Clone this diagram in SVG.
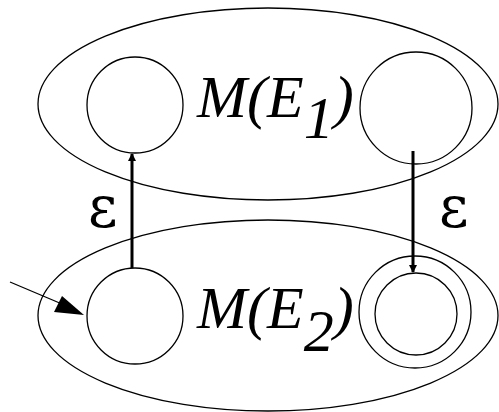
<svg xmlns="http://www.w3.org/2000/svg" width="499" height="412" viewBox="0 0 499 412">
<style>
.sh{fill:none;stroke:#000;stroke-width:1.3}
.ed{fill:none;stroke:#000;stroke-width:3}
.lb{font-family:"Liberation Serif","Times New Roman",serif;font-style:italic;font-size:60px;fill:#000}
.ep{font-family:"DejaVu Serif","Liberation Serif",serif;font-size:57px;fill:#000}
</style>
<defs>
<marker id="ah" markerWidth="8" markerHeight="8" refX="7" refY="4" orient="auto" markerUnits="userSpaceOnUse">
<path d="M0,0 L8,4 L0,8 Z" fill="#000"/>
</marker>
</defs>
<rect width="499" height="412" fill="#fff"/>
<g id="M_E1">
<ellipse class="sh" cx="268" cy="104" rx="230" ry="96"/>
<text class="lb" x="197" y="117">M(E<tspan dy="21">1</tspan><tspan dy="-21">)</tspan></text>
</g>
<g id="M_E2">
<ellipse class="sh" cx="268" cy="315.5" rx="230" ry="95.5"/>
<text class="lb" x="197" y="328">M(E<tspan dy="23">2</tspan><tspan dy="-23">)</tspan></text>
</g>
<g id="s1"><circle class="sh" cx="135" cy="105" r="48"/></g>
<g id="s2"><circle class="sh" cx="416" cy="108" r="56"/></g>
<g id="s3"><circle class="sh" cx="135" cy="316" r="48"/></g>
<g id="s4"><circle class="sh" cx="415" cy="312" r="56"/><circle class="sh" cx="416" cy="314" r="41"/></g>
<g id="connectors">
<line class="ed" x1="132" y1="268" x2="132" y2="154" marker-end="url(#ah)"/>
<line class="ed" x1="413" y1="151" x2="413" y2="272" marker-end="url(#ah)"/>
<line x1="10" y1="282" x2="62" y2="304" stroke="#000" stroke-width="1.3"/>
<path d="M84,315 L62,296 L54,312 Z" fill="#000"/>
<text class="ep" x="88" y="227">ε</text>
<text class="ep" x="439" y="227">ε</text>
</g>
</svg>
